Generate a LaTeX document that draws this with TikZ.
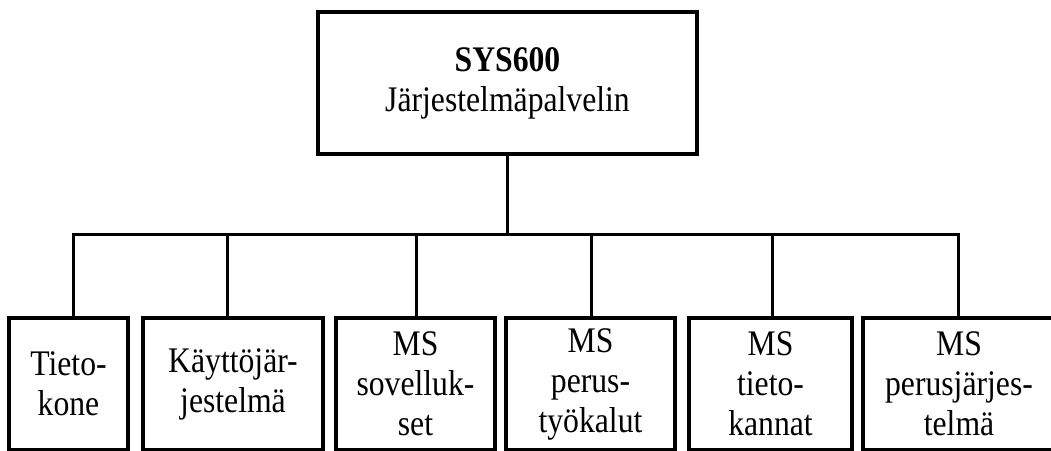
\documentclass[tikz,border=0pt]{standalone}
\usepackage{fontspec}
\setmainfont{Liberation Serif}[FakeStretch=0.88]
\begin{document}
\begin{tikzpicture}[x=1pt,y=-1pt,
  box/.style={draw, line width=3.5pt, rectangle, inner sep=0pt, align=center, font=\fontsize{36}{40}\selectfont},
  link/.style={line width=3pt}]
\clip (0,0) rectangle (1051,450);
\node[box, minimum width=379pt, minimum height=142pt] (top) at (507.5,83) {\textbf{SYS600}\\Järjestelmäpalvelin};
\begin{scope}[every node/.append style={minimum height=132pt}]
\node[box, minimum width=119pt] (b1) at (68.5,384) {Tieto-\\kone};
\node[box, minimum width=180pt] (b2) at (233,384) {Käyttöjär-\\jestelmä};
\node[box, minimum width=159pt] (b3) at (415.5,384) {MS\\sovelluk-\\set};
\node[box, minimum width=169pt] (b4) at (590.5,384) {MS\\perus-\\työkalut};
\node[box, minimum width=163pt] (b5) at (770.5,384) {MS\\tieto-\\kannat};
\node[box, minimum width=192pt] (b6) at (959,384) {MS\\perusjärjes-\\telmä};
\end{scope}
\coordinate (j1) at (73,234);
\coordinate (j2) at (227,234);
\coordinate (j3) at (416,234);
\coordinate (j4) at (591,234);
\coordinate (j5) at (772,234);
\coordinate (j6) at (958,234);
\draw[link] (top.south) -- (top.south |- j1);
\draw[link] (j1 |- b1.north) -- (j1) -- (j6) -- (j6 |- b6.north);
\draw[link] (j2) -- (j2 |- b2.north);
\draw[link] (j3) -- (j3 |- b3.north);
\draw[link] (j4) -- (j4 |- b4.north);
\draw[link] (j5) -- (j5 |- b5.north);
\end{tikzpicture}
\end{document}
